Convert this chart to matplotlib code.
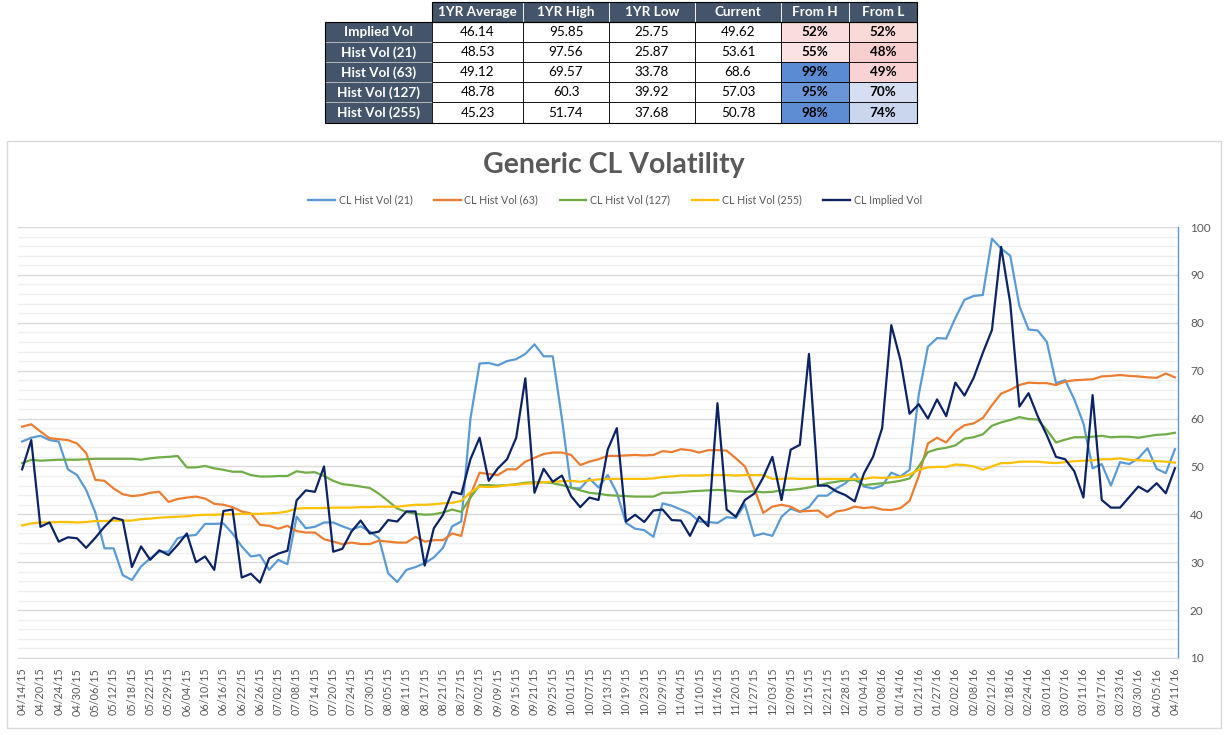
import numpy as np
import matplotlib
matplotlib.use("Agg")
import matplotlib.pyplot as plt
from matplotlib.patches import Rectangle
from matplotlib.lines import Line2D

plt.rcParams['font.family'] = ['Lato', 'DejaVu Sans']

# ---------------- data ----------------
tick_labels = [
    "04/14/15", "04/20/15", "04/24/15", "04/30/15", "05/06/15", "05/12/15", "05/18/15", "05/22/15",
    "05/29/15", "06/04/15", "06/10/15", "06/16/15", "06/22/15", "06/26/15", "07/02/15", "07/08/15",
    "07/14/15", "07/20/15", "07/24/15", "07/30/15", "08/05/15", "08/11/15", "08/17/15", "08/21/15",
    "08/27/15", "09/02/15", "09/09/15", "09/15/15", "09/21/15", "09/25/15", "10/01/15", "10/07/15",
    "10/13/15", "10/19/15", "10/23/15", "10/29/15", "11/04/15", "11/10/15", "11/16/15", "11/20/15",
    "11/27/15", "12/03/15", "12/09/15", "12/15/15", "12/21/15", "12/28/15", "01/04/16", "01/08/16",
    "01/14/16", "01/21/16", "01/27/16", "02/02/16", "02/08/16", "02/12/16", "02/18/16", "02/24/16",
    "03/01/16", "03/07/16", "03/11/16", "03/17/16", "03/23/16", "03/30/16", "04/05/16", "04/11/16",
]

# values every second trading day (two per tick label, last one on the last label)
hist21 = [
    55.2, 56.0, 56.4, 55.5, 55.2, 49.4, 48.2, 45.1, 40.4, 32.9,
    32.9, 27.3, 26.3, 29.1, 30.8, 32.2, 32.2, 35.0, 35.5, 35.7,
    38.0, 38.0, 38.1, 36.0, 33.3, 31.2, 31.5, 28.4, 30.5, 29.6,
    39.5, 37.1, 37.4, 38.3, 38.3, 37.5, 36.8, 37.5, 36.4, 35.0,
    27.7, 25.87, 28.4, 29.0, 29.8, 31.0, 33.0, 37.5, 38.5, 60.0,
    71.5, 71.6, 71.1, 72.0, 72.4, 73.5, 75.5, 73.0, 73.0, 60.0,
    45.5, 45.4, 47.5, 45.6, 48.2, 44.5, 38.2, 37.0, 36.7, 35.3,
    42.3, 41.8, 41.0, 40.2, 38.5, 38.4, 38.2, 39.4, 39.2, 42.1,
    35.5, 36.0, 35.5, 39.5, 41.2, 40.5, 41.5, 43.9, 43.9, 45.4,
    46.5, 48.5, 45.8, 45.4, 46.0, 48.7, 47.9, 49.3, 65.0, 75.0,
    76.8, 76.7, 81.0, 84.8, 85.6, 85.8, 97.56, 95.5, 94.0, 83.5,
    78.6, 78.4, 76.0, 67.4, 68.0, 64.0, 59.0, 49.6, 50.5, 46.0,
    50.9, 50.5, 51.7, 53.8, 49.5, 48.6, 53.61,
]

hist63 = [
    58.3, 58.8, 57.3, 55.9, 55.7, 55.5, 54.8, 52.8, 47.2, 47.0,
    45.4, 44.2, 43.8, 44.0, 44.5, 44.7, 42.6, 43.2, 43.5, 43.7,
    43.3, 42.2, 42.0, 41.5, 40.6, 40.2, 37.8, 37.6, 37.0, 37.6,
    36.5, 36.2, 36.2, 34.8, 34.3, 33.78, 34.1, 33.8, 33.8, 34.5,
    34.3, 34.1, 34.1, 35.3, 34.3, 34.6, 34.6, 36.0, 35.5, 44.0,
    48.7, 48.4, 48.2, 49.4, 49.4, 51.0, 51.8, 52.6, 52.9, 52.9,
    52.4, 50.3, 51.0, 51.5, 52.2, 52.2, 52.3, 52.4, 52.3, 52.4,
    53.2, 53.0, 53.6, 53.4, 52.9, 53.4, 53.4, 53.3, 51.7, 50.0,
    45.5, 40.3, 41.6, 42.0, 41.6, 40.6, 40.7, 40.8, 39.4, 40.6,
    40.9, 41.6, 41.3, 41.5, 41.0, 40.9, 41.3, 42.8, 48.0, 54.8,
    56.0, 55.0, 57.3, 58.6, 59.0, 60.1, 62.8, 65.2, 66.0, 67.0,
    67.5, 67.4, 67.4, 67.0, 67.7, 68.0, 68.1, 68.2, 68.8, 68.9,
    69.1, 68.9, 68.8, 68.6, 68.5, 69.4, 68.6,
]

hist127 = [
    50.7, 51.4, 51.2, 51.3, 51.4, 51.4, 51.4, 51.5, 51.6, 51.6,
    51.6, 51.6, 51.6, 51.4, 51.7, 51.9, 52.0, 52.2, 49.8, 49.8,
    50.1, 49.6, 49.3, 48.9, 48.9, 48.2, 47.9, 47.9, 48.0, 48.0,
    49.0, 48.7, 48.8, 48.0, 47.0, 46.3, 46.1, 45.8, 45.5, 44.3,
    42.8, 41.2, 40.5, 40.1, 39.92, 40.0, 40.4, 41.0, 40.5, 43.5,
    46.1, 46.1, 46.0, 46.1, 46.3, 46.6, 46.7, 46.7, 46.5, 46.1,
    45.6, 45.0, 44.5, 44.3, 44.0, 43.9, 43.8, 43.7, 43.7, 43.7,
    44.5, 44.5, 44.6, 44.8, 44.9, 45.0, 45.1, 45.0, 44.8, 44.7,
    44.8, 44.6, 44.7, 45.0, 45.1, 45.3, 45.6, 46.0, 46.5, 46.8,
    47.1, 47.2, 46.1, 46.3, 46.5, 46.7, 47.0, 47.5, 50.0, 53.0,
    53.6, 53.9, 54.4, 55.8, 56.1, 56.7, 58.5, 59.2, 59.7, 60.3,
    59.9, 59.8, 57.6, 55.0, 55.6, 56.1, 56.1, 56.2, 56.4, 56.1,
    56.2, 56.2, 56.0, 56.3, 56.6, 56.7, 57.03,
]

hist255 = [
    37.68, 38.1, 38.3, 38.3, 38.4, 38.4, 38.3, 38.4, 38.6, 38.6,
    38.7, 38.7, 38.7, 39.0, 39.1, 39.3, 39.4, 39.5, 39.6, 39.8,
    39.9, 39.9, 40.0, 40.0, 40.1, 40.1, 40.1, 40.2, 40.3, 40.6,
    41.2, 41.3, 41.3, 41.3, 41.4, 41.4, 41.4, 41.5, 41.5, 41.6,
    41.6, 41.6, 41.8, 42.0, 42.0, 42.1, 42.3, 42.4, 42.8, 44.6,
    45.8, 45.7, 45.8, 46.1, 46.2, 46.4, 46.5, 46.7, 46.8, 46.9,
    47.0, 46.8, 47.1, 47.3, 47.4, 47.4, 47.4, 47.4, 47.4, 47.5,
    47.8, 47.9, 48.1, 48.1, 48.1, 48.2, 48.2, 48.2, 48.1, 48.2,
    48.2, 48.2, 47.4, 47.4, 47.5, 47.4, 47.4, 47.4, 47.4, 47.4,
    47.4, 47.4, 47.4, 47.7, 47.6, 47.7, 47.8, 48.3, 49.3, 49.8,
    49.9, 49.9, 50.4, 50.3, 50.0, 49.3, 50.0, 50.7, 50.7, 51.0,
    51.0, 51.0, 50.8, 50.7, 50.9, 51.1, 51.2, 51.3, 51.5, 51.5,
    51.7, 51.4, 51.3, 51.2, 51.1, 51.0, 50.78,
]

implied = [
    49.4, 55.5, 37.4, 38.3, 34.3, 35.2, 35.0, 33.0, 35.1, 37.4,
    39.3, 38.8, 29.0, 33.3, 30.5, 32.5, 31.5, 33.6, 36.0, 30.0,
    31.2, 28.4, 40.7, 41.0, 26.8, 27.6, 25.75, 30.8, 31.8, 32.4,
    42.9, 45.0, 44.7, 50.0, 32.2, 32.8, 36.4, 38.7, 36.0, 36.4,
    38.8, 38.5, 40.6, 40.6, 29.3, 37.1, 39.9, 44.7, 44.2, 51.5,
    56.0, 47.0, 49.6, 51.5, 56.0, 68.4, 44.5, 49.5, 46.8, 48.1,
    43.8, 41.5, 43.5, 43.0, 53.5, 58.0, 38.5, 39.9, 38.4, 40.8,
    41.0, 38.8, 38.7, 35.5, 39.5, 37.5, 63.2, 41.0, 39.5, 43.0,
    44.3, 47.7, 52.0, 43.0, 53.5, 54.5, 73.5, 46.0, 46.0, 44.8,
    44.0, 42.7, 48.5, 52.0, 58.0, 79.5, 72.2, 61.0, 63.0, 60.0,
    64.0, 60.5, 67.5, 64.8, 68.5, 73.7, 78.5, 95.85, 84.1, 62.5,
    65.3, 60.5, 56.5, 52.0, 51.5, 49.0, 43.5, 64.9, 43.0, 41.4,
    41.4, 43.6, 45.8, 44.7, 46.5, 44.4, 49.62,
]

series_names = ["CL Hist Vol (21)", "CL Hist Vol (63)", "CL Hist Vol (127)",
                "CL Hist Vol (255)", "CL Implied Vol"]
series_colors = ["#5B9BD5", "#ED7D31", "#70AD47", "#FFC000", "#0C2466"]

# summary table
table_cols = ["1YR Average", "1YR High", "1YR Low", "Current", "From H", "From L"]
table_rows = ["Implied Vol", "Hist Vol (21)", "Hist Vol (63)", "Hist Vol (127)", "Hist Vol (255)"]
t_avg = ["46.14", "48.53", "49.12", "48.78", "45.23"]
t_high = ["95.85", "97.56", "69.57", "60.3", "51.74"]
t_low = ["25.75", "25.87", "33.78", "39.92", "37.68"]
t_cur = ["49.62", "53.61", "68.6", "57.03", "50.78"]
t_from_h = ["52%", "55%", "99%", "95%", "98%"]
t_from_l = ["52%", "48%", "49%", "70%", "74%"]
from_h_colors = ["#FADCDC", "#FBE3E3", "#5B8BD2", "#6A95D6", "#5E8DD3"]
from_l_colors = ["#FAD9D9", "#F8CFCF", "#F9D3D3", "#D5DFF1", "#C9D6EE"]

# ---------------- figure ----------------
W, H = 1229, 735
fig = plt.figure(figsize=(W / 100, H / 100), dpi=100)
fig.patch.set_facecolor("white")


def fx(px):
    return px / W


def fy(py):
    return 1 - py / H


def rect(x0, y0, x1, y1, fc, ec="none", lw=0.0, z=1):
    fig.patches.append(Rectangle((fx(x0), fy(y1)), fx(x1) - fx(x0), fy(y0) - fy(y1),
                                 transform=fig.transFigure, facecolor=fc,
                                 edgecolor=ec, linewidth=lw, zorder=z))


# ----- table -----
col_edges = [325, 432, 523, 609, 695, 781, 849, 917]
row_edges = [2, 22, 42, 62, 82, 102, 123]
dark = "#44546A"
tfs = 9.7
for j, name in enumerate(table_cols):
    x0, x1 = col_edges[j + 1], col_edges[j + 2]
    rect(x0, row_edges[0], x1, row_edges[1], dark, "white", 0.6)
    fig.text(fx((x0 + x1) / 2), fy((row_edges[0] + row_edges[1]) / 2 + 0.5), name,
             ha="center", va="center", color="white", fontsize=tfs, fontweight="bold")
columns = [t_avg, t_high, t_low, t_cur, t_from_h, t_from_l]
for i, rname in enumerate(table_rows):
    y0, y1 = row_edges[i + 1], row_edges[i + 2]
    yc = fy((y0 + y1) / 2 + 0.5)
    rect(col_edges[0], y0, col_edges[1], y1, dark, "#BFBFBF", 0.6)
    fig.text(fx((col_edges[0] + col_edges[1]) / 2), yc, rname, ha="center", va="center",
             color="white", fontsize=tfs, fontweight="bold")
    for j, col in enumerate(columns):
        x0, x1 = col_edges[j + 1], col_edges[j + 2]
        if j == 4:
            fc = from_h_colors[i]
        elif j == 5:
            fc = from_l_colors[i]
        else:
            fc = "white"
        rect(x0, y0, x1, y1, fc, "black", 0.6)
        fig.text(fx((x0 + x1) / 2), yc, col[i], ha="center", va="center", color="black",
                 fontsize=tfs, fontweight="bold" if j >= 4 else "normal")
rect(col_edges[0], row_edges[1], col_edges[-1], row_edges[-1], "none", "black", 0.8, z=3)
rect(col_edges[1], row_edges[0], col_edges[-1], row_edges[1], "none", "black", 0.8, z=3)

# ----- chart frame -----
rect(7, 141, 1221, 728, "white", "#D9D9D9", 1.0, z=-5)

fig.text(fx(614), fy(165), "Generic CL Volatility", ha="center", va="center",
         fontsize=20.5, fontweight="bold", color="#595959", zorder=4)

ax = fig.add_axes([fx(18), fy(658), fx(1177.5) - fx(18), fy(227) - fy(658)])
ax.set_zorder(3)
ax.set_facecolor("none")
x = np.arange(len(implied))
all_series = [hist21, hist63, hist127, hist255, implied]
for vals, name, col in zip(all_series, series_names, series_colors):
    ax.plot(x, vals, color=col, lw=1.6, label=name, solid_joinstyle="round")

ax.set_ylim(10, 100)
ax.set_xlim(-0.45, len(x) - 1 + 0.28)
ax.yaxis.tick_right()
ax.set_yticks(np.arange(10, 101, 10))
ax.set_yticks(np.arange(10, 101, 2), minor=True)
ax.grid(axis="y", which="major", color="#D9D9D9", lw=1.0)
ax.grid(axis="y", which="minor", color="#EFEFEF", lw=1.0)
ax.grid(axis="x", visible=False)
ax.set_axisbelow(True)
ax.set_xticks(x[::2])
ax.set_xticklabels(tick_labels, rotation=90, fontsize=7.8, color="#595959")
ax.tick_params(axis="x", length=0, pad=7)
ax.tick_params(axis="y", which="both", length=0, labelsize=8.5, labelcolor="#595959", pad=9)
ax.spines["top"].set_visible(False)
ax.spines["left"].set_visible(False)
ax.spines["bottom"].set_color("#D9D9D9")
ax.spines["right"].set_color("#5B9BD5")
ax.spines["right"].set_linewidth(1.0)

handles = [Line2D([0], [0], color=c, lw=1.7) for c in series_colors]
leg = fig.legend(handles, series_names, loc="center", bbox_to_anchor=(fx(615), fy(200)),
                 ncol=5, frameon=False, fontsize=7.7, handlelength=2.5, handletextpad=0.35,
                 columnspacing=2.0, labelcolor="#595959")
leg.set_zorder(4)

fig.savefig("out.png", dpi=100, facecolor="white")
